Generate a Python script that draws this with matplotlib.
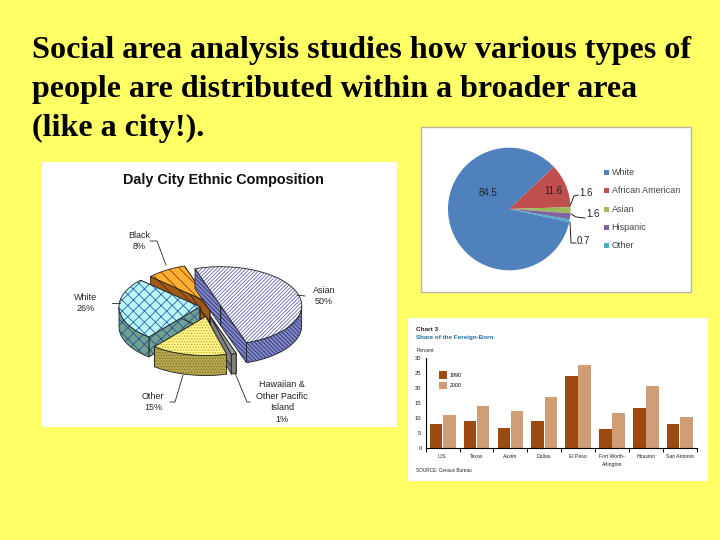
import numpy as np
import matplotlib
matplotlib.use("Agg")
import matplotlib.pyplot as plt
from matplotlib.patches import Polygon, Rectangle

W, H = 720, 540
BG = "#FFFF66"

title_lines = ["Social area analysis studies how various types of",
               "people are distributed within a broader area",
               "(like a city!)."]

# 3-D pie
pie3d_title = "Daly City Ethnic Composition"
pie3d_names = ["Asian", "Hawaiian & Other Pacific Island", "Other", "White", "Black"]
pie3d_values = [50, 1, 15, 26, 8]

# flat pie
pie_names = ["White", "African American", "Asian", "Hispanic", "Other"]
pie_values = [84.5, 11.6, 1.6, 1.6, 0.7]
pie_colors = ["#4F81BD", "#C0504D", "#9BBB59", "#8064A2", "#4BACC6"]

# bars
bar_title = "Chart 3"
bar_subtitle = "Share of the Foreign-Born"
bar_categories = ["U.S.", "Texas", "Austin", "Dallas", "El Paso",
                  "Fort Worth-\nArlington", "Houston", "San Antonio"]
bar_1990 = [8, 9, 6.7, 9, 24, 6.3, 13.3, 8]
bar_2000 = [11, 14, 12.3, 17, 27.5, 11.5, 20.5, 10.3]
bar_ticks = [0, 5, 10, 15, 20, 25, 30]

plt.rcParams["font.family"] = ["Liberation Sans", "DejaVu Sans"]
plt.rcParams["hatch.linewidth"] = 0.6

fig = plt.figure(figsize=(7.2, 5.4), dpi=100, facecolor=BG)


def px_axes(x0, y0, x1, y1, **kw):
    return fig.add_axes([x0 / W, 1 - y1 / H, (x1 - x0) / W, (y1 - y0) / H], **kw)


def overlay(z):
    a = fig.add_axes([0, 0, 1, 1], zorder=z)
    a.set_xlim(0, W)
    a.set_ylim(H, 0)
    a.axis("off")
    return a


bg = overlay(0)
fg = overlay(5)

for i, line in enumerate(title_lines):
    bg.text(32, 58 + 39 * i, line, family=["Liberation Serif"], weight="bold",
            fontsize=23.1, va="baseline", ha="left", color="black")

bg.add_patch(Rectangle((42, 162), 355, 265, fc="white", ec="none"))
bg.add_patch(Rectangle((420.5, 126.5), 270, 165, fc="white", ec="#B5B5A0", lw=1))
bg.add_patch(Rectangle((408, 318), 300, 163, fc="white", ec="none"))

# ---------- 3-D pie ----------
bg.text(223.5, 180, pie3d_title, weight="bold", fontsize=10.4, ha="center", va="center",
        color="#111111")
RX, RY, DEPTH = 81, 39, 20
start_angle = 108.5
centers = [(220.7, 305.7), (210.5, 316.5), (205.7, 316.5), (200, 306.7), (210, 303)]
styles = [
    dict(top="white", top_h="/////////", top_e="#6068A8", side="#8088C8", side_h="\\\\\\\\\\\\\\\\", side_e="#30306A"),
    dict(top="#9A9A9A", top_h=None, top_e="#808080", side="#808080", side_h=None, side_e="#707070"),
    dict(top="#FFF68A", top_h="......", top_e="#C0A830", side="#B8A850", side_h="......", side_e="#7A6E28"),
    dict(top="#B8F8F8", top_h="xxx", top_e="#3060B0", side="#6FA090", side_h="xxx", side_e="#2A5090"),
    dict(top="#FFB030", top_h="\\\\\\", top_e="#8A3A08", side="#A05A18", side_h="\\\\\\", side_e="#602808"),
]


def face(pts, fc, hatch, ec, z):
    bg.add_patch(Polygon(pts, closed=True, fc=fc, hatch=hatch, ec=ec, lw=0, zorder=z))
    bg.add_patch(Polygon(pts, closed=True, fc="none", ec="#222222", lw=0.6, zorder=z + 0.01))


sweeps = np.array(pie3d_values) / sum(pie3d_values) * 360
t_end = start_angle - np.cumsum(sweeps)
t_start = t_end + sweeps
order = [4, 3, 1, 2, 0]
for depth_rank, k in enumerate(order):
    cx, cy = centers[k]
    s = styles[k]
    ts = np.radians(np.linspace(t_start[k], t_end[k], 80))
    ex = cx + RX * np.cos(ts)
    ey = cy - RY * np.sin(ts)
    base = 2 + depth_rank
    for (ax_, ay_) in [(ex[0], ey[0]), (ex[-1], ey[-1])]:
        face([(cx, cy), (ax_, ay_), (ax_, ay_ + DEPTH), (cx, cy + DEPTH)],
             s["side"], s["side_h"], s["side_e"], base)
    front = np.sin(ts) < 0
    if front.any():
        fx, fy = ex[front], ey[front]
        wall = list(zip(fx, fy)) + list(zip(fx[::-1], fy[::-1] + DEPTH))
        face(wall, s["side"], s["side_h"], s["side_e"], base + 0.1)
    top = [(cx, cy)] + list(zip(ex, ey))
    face(top, s["top"], s["top_h"], s["top_e"], base + 0.2)

lab = dict(fontsize=6.5, ha="center", va="center", color="#222222", linespacing=1.35)
bg.text(139, 241, "Black\n8%", **lab)
bg.text(324, 296, "Asian\n50%", **lab)
bg.text(86, 303, "White\n26%", **lab)
bg.text(153, 402, "Other\n15%", **lab)
bg.text(282, 402, "Hawaiian &\nOther Pacific\nIsland\n1%", **lab)
leaders = [[(150, 241), (157, 241), (166, 265)],
           [(305, 296), (297, 295)],
           [(112, 303), (120, 303)],
           [(170, 402), (175, 402), (183, 375)],
           [(250, 402), (247, 402), (235, 373)]]
for pts in leaders:
    xs, ys = zip(*pts)
    bg.plot(xs, ys, color="#222222", lw=0.6, zorder=9)

# ---------- flat pie ----------
R = 61.3
pcx, pcy = 509.3, 209
pax = px_axes(pcx - R, pcy - R, pcx + R, pcy + R, zorder=2)
pax.pie(pie_values, colors=pie_colors, startangle=-12.3, counterclock=False,
        radius=1, wedgeprops=dict(lw=0))
pax.set_xlim(-1, 1)
pax.set_ylim(-1, 1)
pax.patch.set_alpha(0)

val = dict(fontsize=7, ha="center", va="center", color="#222222")
fg.text(488, 193, f"{pie_values[0]}", **val)
fg.text(553, 191, f"{pie_values[1]}", **val)
fg.text(586, 193, f"{pie_values[2]}", **val)
fg.text(593, 214, f"{pie_values[3]}", **val)
fg.text(583, 241, f"{pie_values[4]}", **val)
for pts in [[(570.5, 205), (574, 196), (578, 195)],
            [(571, 214), (576, 217), (585, 218)],
            [(570, 222), (571, 243), (576, 243)]]:
    xs, ys = zip(*pts)
    fg.plot(xs, ys, color="#222222", lw=0.7)
for i, (name, col) in enumerate(zip(pie_names, pie_colors)):
    y = 172.5 + 18.3 * i
    bg.add_patch(Rectangle((604, y - 2.5), 5, 5, fc=col, ec="none"))
    bg.text(611.5, y, name, fontsize=6.5, ha="left", va="center", color="#444444")

# ---------- bars ----------
bax = px_axes(425.7, 357.7, 696.7, 447.7, zorder=2)
bax.patch.set_alpha(0)
x = np.arange(len(bar_categories)) + 0.5
bw = 0.37
bax.bar(x - bw / 2 - 0.01, bar_1990, bw, color="#9C4A10", label="1990")
bax.bar(x + bw / 2 + 0.01, bar_2000, bw, color="#CF9E76", label="2000")
bax.set_xlim(0, len(bar_categories))
bax.set_ylim(0, 30)
bax.set_yticks(bar_ticks)
bax.set_xticks(np.arange(len(bar_categories) + 1))
bax.set_xticklabels([])
bax.set_xticks(x, minor=True)
bax.set_xticklabels(bar_categories, minor=True, fontsize=3.7, color="#222222", linespacing=1.7)
bax.tick_params(axis="x", which="minor", length=0, pad=4.5)
bax.tick_params(axis="x", which="major", length=3, width=0.7, direction="out")
bax.tick_params(axis="y", length=0, pad=3, labelsize=4.2, labelcolor="#222222")
for sp in ("top", "right"):
    bax.spines[sp].set_visible(False)
bax.spines["left"].set_linewidth(0.8)
bax.spines["bottom"].set_linewidth(0.8)
bax.legend(loc="upper left", bbox_to_anchor=(0.05, 0.85), frameon=False, fontsize=3.8,
           handlelength=1.5, handleheight=1.9, handletextpad=0.5, labelspacing=0.5,
           borderpad=0, borderaxespad=0)

bg.text(416, 329.5, bar_title, fontsize=4.6, weight="bold", va="center", color="#222222")
bg.text(416, 338, bar_subtitle, fontsize=4.5, weight="bold", va="center", color="#1F6E9E")
bg.text(417, 350, "Percent", fontsize=3.6, va="center", color="#222222")
bg.text(416, 470, "SOURCE: Census Bureau", fontsize=3.4, va="center", color="#222222")

fig.savefig("out.png", dpi=100, facecolor=BG)
